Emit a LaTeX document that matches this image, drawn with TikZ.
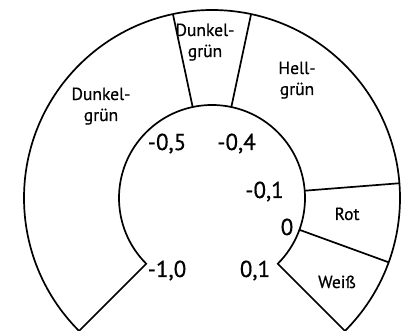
\documentclass[tikz,border=0pt]{standalone}
\usepackage{fontspec}
\setmainfont{PT Sans}
\newfontfamily\labelfont{PT Sans}[FakeBold=0.6]
\usetikzlibrary{calc}
\begin{document}
\begin{tikzpicture}[x=1pt,y=1pt,
  ring/.style={line width=1.7pt, line join=miter},
  colourlabel/.style={align=center, anchor=base, inner sep=0pt,
    font=\labelfont\fontsize{17.5}{21}\selectfont},
  scalelabel/.style={anchor=base, inner sep=0pt,
    font=\labelfont\fontsize{23}{27}\selectfont}]
  \useasboundingbox (0,0) rectangle (406,331);
  \clip (0,0) rectangle (406,331);
  \coordinate (c) at (212,133);
  % corners of the ring and the ends of the dividing lines
  \path (c) ++(225:93) coordinate (inL)
        (c) ++(225:188) coordinate (outL)
        (c) ++(-45:93) coordinate (inR)
        (c) ++(-45:188) coordinate (outR)
        (c) ++(102:93) coordinate (i1) (c) ++(102:188) coordinate (o1)
        (c) ++(78:93) coordinate (i2) (c) ++(78:188) coordinate (o2)
        (c) ++(4.5:93) coordinate (i3) (c) ++(4.5:188) coordinate (o3)
        (c) ++(-20:93) coordinate (i4) (c) ++(-20:188) coordinate (o4);
  % ring outline
  \draw[ring] (inL) arc[start angle=225, end angle=-45, radius=93]
    -- (outR) arc[start angle=-45, end angle=225, radius=188] -- cycle;
  % segment borders
  \draw[ring] (i1) -- (o1);
  \draw[ring] (i2) -- (o2);
  \draw[ring] (i3) -- (o3);
  \draw[ring] (i4) -- (o4);
  % colour names (base is the baseline of the last line)
  \node[colourlabel] (dg1) at (101,210) {Dunkel-\\grün};
  \node[colourlabel] (dg2) at (205,274) {Dunkel-\\grün};
  \node[colourlabel] (hg) at (297,236) {Hell-\\grün};
  \node[colourlabel] (rot) at (347,111) {Rot};
  \node[colourlabel] (weiss) at (337,43) {Weiß};
  % scale values
  \node[scalelabel] (m05) at (167,181) {-0,5};
  \node[scalelabel] (m04) at (236.5,181) {-0,4};
  \node[scalelabel] (m01) at (264.5,133) {-0,1};
  \node[scalelabel] (z0) at (287,96) {0};
  \node[scalelabel] (m10) at (167,54) {-1,0};
  \node[scalelabel] (p01) at (255,54) {0,1};
\end{tikzpicture}
\end{document}
